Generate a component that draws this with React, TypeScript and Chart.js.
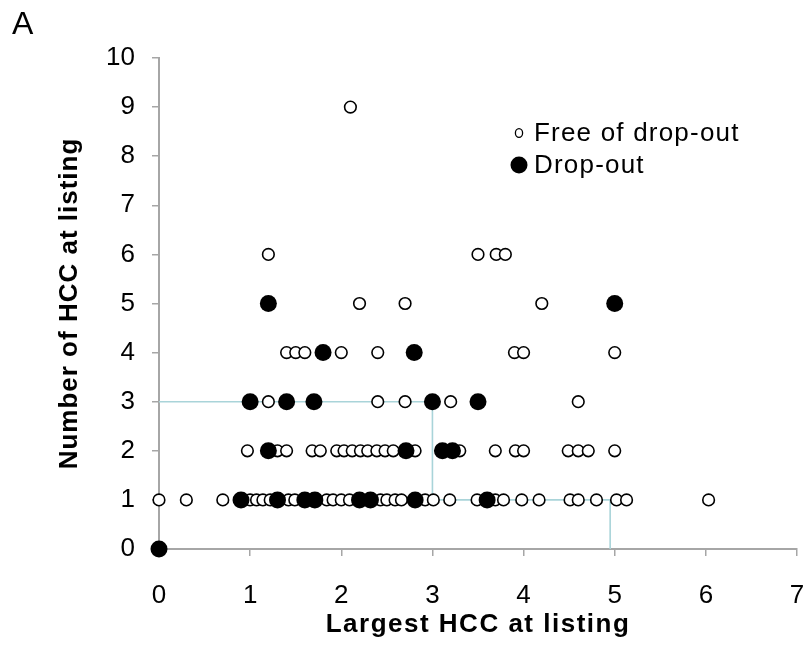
import { useEffect, useRef } from "react";
import { Chart, registerables } from "chart.js";
Chart.register(...registerables);

const FONT = "'Liberation Sans', Arial, Helvetica, sans-serif";

// x values (largest HCC) grouped by number of HCC
const free1 = [0, 0.3, 0.7, 1.0, 1.07, 1.14, 1.22, 1.42, 1.49, 1.84, 1.91, 2.0, 2.09, 2.43, 2.5, 2.59, 2.66, 2.92, 3.01, 3.19, 3.49, 3.69, 3.78, 3.98, 4.17, 4.51, 4.6, 4.8, 5.02, 5.13, 6.03];
const free2 = [0.97, 1.3, 1.4, 1.68, 1.77, 1.95, 2.03, 2.12, 2.21, 2.29, 2.39, 2.48, 2.57, 2.81, 3.3, 3.69, 3.91, 4.0, 4.49, 4.6, 4.71, 5.0];
const free3 = [1.2, 2.4, 2.7, 3.2, 4.6];
const free4 = [1.4, 1.5, 1.6, 2.0, 2.4, 3.9, 4.0, 5.0];
const free5 = [2.2, 2.7, 4.2];
const free6 = [1.2, 3.5, 3.7, 3.8];
const free9 = [2.1];

const drop0 = [0];
const drop1 = [0.9, 1.3, 1.6, 1.71, 2.2, 2.32, 2.81, 3.6];
const drop2 = [1.2, 2.71, 3.11, 3.22];
const drop3 = [1.0, 1.4, 1.7, 3.0, 3.5];
const drop4 = [1.8, 2.8];
const drop5 = [1.2, 5.0];

const guideX = [0, 3, 3, 4.95, 4.95];
const guideY = [3, 3, 1, 1, 0];

const xTicks = [0, 1, 2, 3, 4, 5, 6, 7];
const yTicks = [0, 1, 2, 3, 4, 5, 6, 7, 8, 9, 10];

const xTitle = "Largest HCC at listing";
const yTitle = "Number of HCC at listing";
const legendFree = "Free of drop-out";
const legendDrop = "Drop-out";

const toPts = (xs: number[], y: number) => xs.map((x) => ({ x, y }));

const freePts = [
  ...toPts(free1, 1),
  ...toPts(free2, 2),
  ...toPts(free3, 3),
  ...toPts(free4, 4),
  ...toPts(free5, 5),
  ...toPts(free6, 6),
  ...toPts(free9, 9),
];
const dropPts = [
  ...toPts(drop0, 0),
  ...toPts(drop1, 1),
  ...toPts(drop2, 2),
  ...toPts(drop3, 3),
  ...toPts(drop4, 4),
  ...toPts(drop5, 5),
];
const guidePts = guideX.map((x, i) => ({ x, y: guideY[i] }));

const AXIS = "#a6a6a6";

const textPlugin = {
  id: "customText",
  afterDraw(chart: any) {
    const ctx = chart.ctx as any;
    const area = chart.chartArea;
    ctx.save();
    ctx.fillStyle = "#000";
    // axis titles
    ctx.font = `bold 26px ${FONT}`;
    ctx.letterSpacing = "1.5px";
    ctx.textAlign = "center";
    ctx.textBaseline = "middle";
    ctx.fillText(xTitle, (area.left + area.right) / 2, 625);
    ctx.save();
    ctx.letterSpacing = "1px";
    ctx.translate(70, (area.top + area.bottom) / 2);
    ctx.rotate(-Math.PI / 2);
    ctx.fillText(yTitle, 0, 0);
    ctx.restore();

    // legend
    ctx.letterSpacing = "1.2px";
    ctx.font = `26px ${FONT}`;
    ctx.textAlign = "left";
    ctx.beginPath();
    ctx.ellipse(519, 133, 3.6, 4.4, 0, 0, Math.PI * 2);
    ctx.fillStyle = "#fff";
    ctx.fill();
    ctx.lineWidth = 1.3;
    ctx.strokeStyle = "#000";
    ctx.stroke();
    ctx.fillStyle = "#000";
    ctx.fillText(legendFree, 534, 134);
    ctx.beginPath();
    ctx.arc(519, 165, 8.5, 0, Math.PI * 2);
    ctx.fill();
    ctx.fillText(legendDrop, 534, 166);
    ctx.restore();
  },
};

export default function App() {
  const ref = useRef<HTMLCanvasElement>(null);
  useEffect(() => {
    if (!ref.current) return;
    const chart = new Chart(ref.current, {
      type: "scatter",
      data: {
        datasets: [
          {
            label: legendDrop,
            data: dropPts,
            pointRadius: 8.5,
            pointBackgroundColor: "#000",
            pointBorderColor: "#000",
            pointBorderWidth: 0,
            clip: false,
            order: 0,
          } as any,
          {
            label: legendFree,
            data: freePts,
            pointRadius: 5.8,
            pointBackgroundColor: "#fff",
            pointBorderColor: "#000",
            pointBorderWidth: 1.6,
            clip: false,
            order: 1,
          } as any,
          {
            type: "line",
            label: "guide",
            data: guidePts,
            showLine: true,
            borderColor: "#a9d4d9",
            borderWidth: 1.6,
            pointRadius: 0,
            fill: false,
            tension: 0,
            clip: false,
            order: 2,
          } as any,
        ],
      },
      options: {
        responsive: false,
        animation: false,
        layout: { padding: { top: 58, right: 12, left: 0, bottom: 0 } },
        plugins: { legend: { display: false }, tooltip: { enabled: false } },
        scales: {
          x: {
            type: "linear",
            min: 0,
            max: 7,
            afterBuildTicks: (s: any) => {
              s.ticks = xTicks.map((v) => ({ value: v }));
            },
            ticks: { color: "#000", font: { family: FONT, size: 26 }, padding: 24, maxRotation: 0 },
            grid: { drawOnChartArea: false, drawTicks: true, tickLength: 7, color: AXIS, lineWidth: 1.5 },
            border: { display: true, color: AXIS, width: 2 },
            title: { display: false },
            afterFit: (s: any) => {
              s.height = 96;
              s.paddingLeft = 0;
              s.paddingRight = 0;
            },
          },
          y: {
            type: "linear",
            min: 0,
            max: 10,
            afterBuildTicks: (s: any) => {
              s.ticks = yTicks.map((v) => ({ value: v }));
            },
            ticks: { color: "#000", font: { family: FONT, size: 26 }, padding: 17 },
            grid: { drawOnChartArea: false, drawTicks: true, tickLength: 7, color: AXIS, lineWidth: 1.5 },
            border: { display: true, color: AXIS, width: 2 },
            title: { display: false },
            afterFit: (s: any) => {
              s.width = 159;
              s.paddingTop = 0;
              s.paddingBottom = 0;
            },
          },
        },
      } as any,
      plugins: [textPlugin],
    });
    return () => chart.destroy();
  }, []);

  return (
    <div style={{ position: "absolute", left: 0, top: 0, width: 809, height: 645, background: "#fff" }}>
      <canvas ref={ref} width={809} height={645} style={{ position: "absolute", left: 0, top: 0 }} />
      <div
        style={{
          position: "absolute",
          left: 12,
          top: 7,
          fontFamily: FONT,
          fontSize: 32,
          lineHeight: "32px",
          color: "#000",
        }}
      >
        A
      </div>
    </div>
  );
}
